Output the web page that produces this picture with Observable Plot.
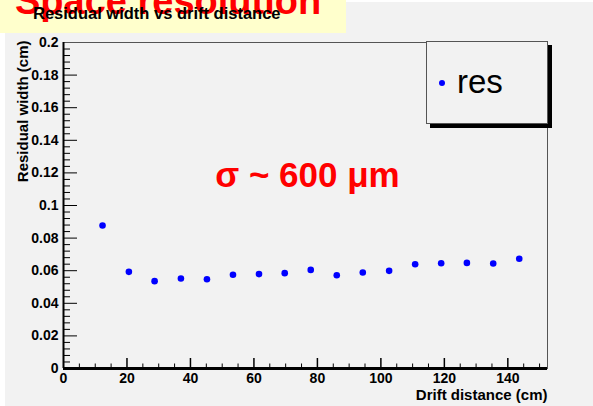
<!DOCTYPE html>
<html>
<head>
<meta charset="utf-8">
<script src="https://cdn.jsdelivr.net/npm/d3@7"></script>
<script src="https://cdn.jsdelivr.net/npm/@observablehq/plot@0.6"></script>
<style>
  html, body { margin: 0; padding: 0; background: #ffffff; }
  #wrap { position: relative; width: 593px; height: 406px; overflow: hidden; font-family: "Liberation Sans", Arial, sans-serif; }
  #pad { position: absolute; left: 5px; top: 2px; right: 0; bottom: 0; background: #f2f2f2; }
  #banner { position: absolute; left: 0; top: 0; width: 346px; height: 33px; background: #ffffcc; overflow: hidden; }
  #slideTitle { position: absolute; left: 15px; top: -21px; font-size: 38px; font-weight: bold; color: #ff0000; white-space: nowrap; line-height: 44px; }
  #plotTitle { position: absolute; left: 33px; top: 4px; font-size: 16.5px; font-weight: bold; color: #000; white-space: nowrap; line-height: 18px; }
  #chart { position: absolute; left: 0; top: 0; }
  #legend { position: absolute; left: 426px; top: 41px; width: 120px; height: 81px; border: 1px solid #555; background: #f2f2f2; box-shadow: 4px 4px 0 0 #000; }
  #legend .dot { position: absolute; left: 12px; top: 38px; width: 6px; height: 6px; border-radius: 50%; background: #0000ff; }
  #legend .lab { position: absolute; left: 30px; top: 20px; font-size: 33px; line-height: 40px; color: #000; font-family: "Liberation Sans", Arial, sans-serif; }
</style>
</head>
<body>
<div id="wrap">
  <div id="pad"></div>
  <div id="chart"></div>
  <div id="banner"><div id="slideTitle"></div></div>
  <div id="plotTitle"></div>
  <div id="legend"><div class="dot"></div><div class="lab"></div></div>
</div>
<script>
// ---- data ----
const slideTitle = "Space resolution";
const chartTitle = "Residual width vs drift distance";
const xLabel = "Drift distance (cm)";
const yLabel = "Residual width (cm)";
const seriesName = "res";
const annotation = "σ ~ 600 μm";
const driftDistance = [12.3, 20.6, 28.7, 37.0, 45.2, 53.4, 61.6, 69.7, 77.9, 86.1, 94.3, 102.6, 110.8, 119.0, 127.1, 135.4, 143.6];
const residualWidth = [0.0877, 0.0593, 0.0536, 0.0552, 0.0548, 0.0575, 0.0579, 0.0585, 0.0605, 0.0572, 0.0589, 0.0599, 0.0640, 0.0646, 0.0648, 0.0644, 0.0673];
const xMajorTicks = [0, 20, 40, 60, 80, 100, 120, 140];
const yMajorTicks = [0, 0.02, 0.04, 0.06, 0.08, 0.1, 0.12, 0.14, 0.16, 0.18, 0.2];
const xDomain = [0, 152.5];
const yDomain = [0, 0.2];

// ---- layout ----
const W = 593, H = 406;
const mL = 63, mR = 46, mT = 42, mB = 38;
const plotW = W - mL - mR, plotH = H - mT - mB;
const xPerPx = (xDomain[1] - xDomain[0]) / plotW;
const yPerPx = (yDomain[1] - yDomain[0]) / plotH;

const data = driftDistance.map((x, i) => ({x, y: residualWidth[i]}));
const xMinor = d3.range(0, 152.5, 5).filter(v => v % 20 !== 0);
const yMinor = d3.range(0, 0.2001, 0.004).map(v => +v.toFixed(3)).filter(v => Math.round(v * 1000) % 20 !== 0);

const chart = Plot.plot({
  width: W, height: H,
  marginLeft: mL, marginRight: mR, marginTop: mT, marginBottom: mB,
  x: {domain: xDomain},
  y: {domain: yDomain},
  style: {background: "transparent", fontFamily: "Liberation Sans, Arial, sans-serif", fontWeight: "bold", fontSize: "14px", color: "#000", overflow: "visible"},
  marks: [
    Plot.frame({stroke: "#555", strokeWidth: 1}),
    // x ticks (inside, upward)
    Plot.ruleX(xMajorTicks.filter(v => v > 0), {y1: 0, y2: 10 * yPerPx, stroke: "#000", strokeWidth: 1.5}),
    Plot.ruleX(xMinor, {y1: 0, y2: 4.5 * yPerPx, stroke: "#000", strokeWidth: 1}),
    // y ticks (inside, rightward)
    Plot.ruleY(yMajorTicks.filter(v => v > 0 && v < 0.2), {x1: 0, x2: 14 * xPerPx, stroke: "#000", strokeWidth: 1}),
    Plot.ruleY(yMinor, {x1: 0, x2: 7 * xPerPx, stroke: "#000", strokeWidth: 1}),
    Plot.ruleY([0], {stroke: "#000", strokeWidth: 3}),
    Plot.ruleX([0], {stroke: "#000", strokeWidth: 2}),
    Plot.axisX({ticks: xMajorTicks, tickSize: 0, tickPadding: 5, label: null, fontSize: 14, fontWeight: "bold", tickFormat: d => String(d)}),
    Plot.axisY({ticks: yMajorTicks, tickSize: 0, tickPadding: 5, label: null, fontSize: 14, fontWeight: "bold", tickFormat: d => String(+d.toFixed(2))}),
    Plot.text([xLabel], {frameAnchor: "bottom-right", dy: 31, textAnchor: "end", fontSize: 15, fontWeight: "bold"}),
    Plot.text([yLabel], {frameAnchor: "top-left", rotate: -90, dx: -46, dy: -2, textAnchor: "end", fontSize: 15, fontWeight: "bold"}),
    Plot.text([annotation], {frameAnchor: "top-left", dx: 244, dy: 120, textAnchor: "middle", fontSize: 35, fontWeight: "bold", fill: "#ff0000"}),
    Plot.dot(data, {x: "x", y: "y", r: 3.3, fill: "#0000ff", stroke: "none"})
  ]
});
document.getElementById("chart").appendChild(chart);
document.getElementById("slideTitle").textContent = slideTitle;
document.getElementById("plotTitle").textContent = chartTitle;
document.querySelector("#legend .lab").textContent = seriesName;
</script>
</body>
</html>
